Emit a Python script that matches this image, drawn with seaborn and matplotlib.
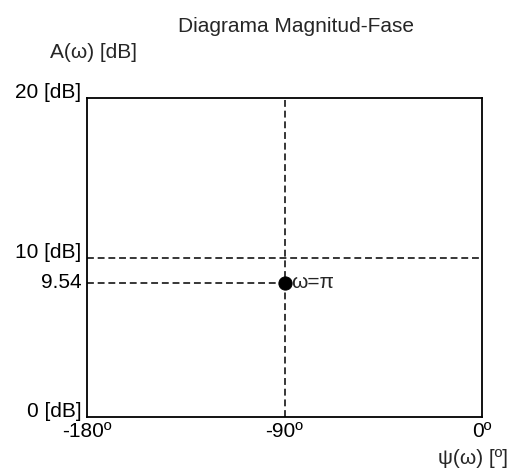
import numpy as np
import pandas as pd
import matplotlib
matplotlib.use("Agg")
import matplotlib.pyplot as plt
import seaborn as sns

# Data
phase_deg = [-90]
magnitude_db = [9.54]
point_label = ["ω=π"]
x_ticks = [-180, -90, 0]
x_tick_labels = ["-180º", "-90º", "0º"]
y_ticks = [0, 9.54, 10, 20]
y_tick_labels = ["0 [dB]", "9.54", "10 [dB]", "20 [dB]"]
ref_phase = -90
ref_mag = 10

sns.set_theme(style="white")
plt.rcParams['font.family'] = ['Liberation Sans', 'DejaVu Sans']
FS = 15

df = pd.DataFrame({"phase": phase_deg, "mag": magnitude_db})

fig = plt.figure(figsize=(5.25, 4.68), dpi=100)
ax = fig.add_axes([87/525, 1-417/468, (482-87)/525, (417-98)/468])

# non-uniform vertical spacing as in the reference
_d = [0, 9.54, 10, 20]
_v = [0, 8.43, 10, 20]
ax.set_yscale('function', functions=(lambda y: np.interp(y, _d, _v),
                                     lambda y: np.interp(y, _v, _d)))
ax.set_xlim(-180, 0)
ax.set_ylim(0, 20)

dash = (0, (4.5, 2.5))
ax.axvline(ref_phase, color='black', lw=1.1, ls=dash, zorder=1)
ax.axhline(ref_mag, color='black', lw=1.1, ls=dash, zorder=1)
ax.plot([-180, phase_deg[0]], [magnitude_db[0], magnitude_db[0]],
        color='black', lw=1.1, ls=dash, zorder=1)

sns.scatterplot(data=df, x="phase", y="mag", ax=ax, color='black', s=90,
                edgecolor='black', zorder=3, legend=False)
for x, y, t in zip(phase_deg, magnitude_db, point_label):
    ax.annotate(t, (x, y), xytext=(5, 0), textcoords='offset points',
                va='center', ha='left', fontsize=FS)

ax.set_xticks(x_ticks)
ax.set_xticklabels(x_tick_labels, fontsize=FS)
ax.set_yticks(y_ticks)
ax.set_yticklabels(y_tick_labels, fontsize=FS)
ax.yaxis.set_minor_locator(matplotlib.ticker.NullLocator())
for lab in ax.get_yticklabels():
    if '[dB]' in lab.get_text():
        lab.set_verticalalignment('baseline')
    else:
        lab.set_verticalalignment('center')
ax.tick_params(axis='both', length=0, colors='black')
ax.tick_params(axis='y', pad=4)
ax.tick_params(axis='x', pad=3.5)
ax.set_xlabel("")
ax.set_ylabel("")
for s in ax.spines.values():
    s.set_color('black')
    s.set_linewidth(1.3)

fig.text(296/525, 1-27/468, "Diagrama Magnitud-Fase", ha='center', va='center', fontsize=FS)
fig.text(50/525, 1-53/468, "A(ω) [dB]", ha='left', va='center', fontsize=FS)
fig.text(508/525, 1-458/468, "ψ(ω) [º]", ha='right', va='center', fontsize=FS)

fig.savefig("out.png", dpi=100, facecolor='white')
